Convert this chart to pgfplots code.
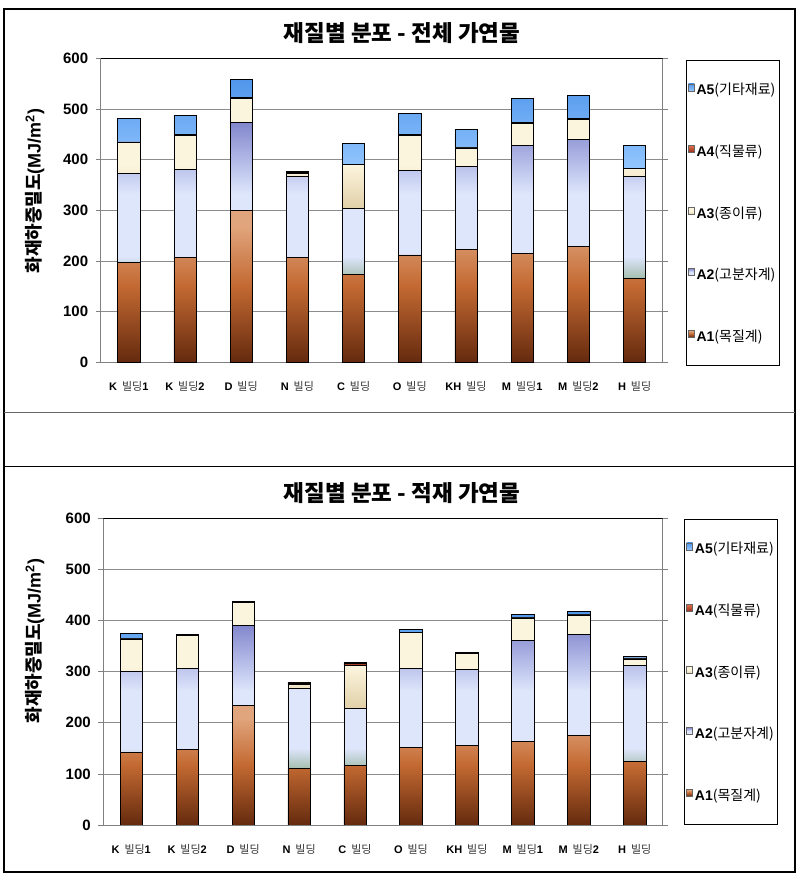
\documentclass[border=0pt]{standalone}
\usepackage{pgfplots}
\pgfplotsset{compat=1.18}
\usepackage{pgfplotstable}
\usepackage{fontspec}
\setmainfont{Liberation Sans}
\newfontfamily\kr{Noto Sans CJK KR}

\definecolor{a1d}{RGB}{100,42,14}
\definecolor{a1m}{RGB}{195,105,50}
\definecolor{a1l}{RGB}{225,165,125}
\definecolor{a2g}{RGB}{165,190,175}
\definecolor{a2p}{RGB}{222,230,252}
\definecolor{a2b}{RGB}{130,135,205}
\definecolor{a3b}{RGB}{225,208,168}
\definecolor{a3c}{RGB}{252,245,222}
\definecolor{a4d}{RGB}{150,45,25}
\definecolor{a4l}{RGB}{225,110,75}
\definecolor{a5b}{RGB}{150,200,255}
\definecolor{a5t}{RGB}{80,150,235}

\pgfdeclareverticalshading{shAa}{100bp}{color(0bp)=(a1d); color(25bp)=(a1d); color(50bp)=(a1m); color(70bp)=(a1l); color(100bp)=(a1l)}
\pgfdeclareverticalshading{shAb}{100bp}{color(0bp)=(a2g); color(25bp)=(a2g); color(32bp)=(a2p); color(52bp)=(a2p); color(75bp)=(a2b); color(100bp)=(a2b)}
\pgfdeclareverticalshading{shAc}{100bp}{color(0bp)=(a3b); color(25bp)=(a3b); color(45bp)=(a3c); color(100bp)=(a3c)}
\pgfdeclareverticalshading{shAd}{100bp}{color(0bp)=(a4d); color(25bp)=(a4d); color(75bp)=(a4l); color(100bp)=(a4l)}
\pgfdeclareverticalshading{shAe}{100bp}{color(0bp)=(a5b); color(25bp)=(a5b); color(75bp)=(a5t); color(100bp)=(a5t)}

\pgfplotstableread{
x A1 A2 A3 A4 A5
0 197 176 61 1 47
1 207 174 67 1 39
2 300 174 47 1 37
3 207 160 5 2 2
4 173 131 86 1 41
5 212 167 69 1 42
6 223 164 36 1 36
7 215 213 44 1 47
8 228 212 40 2 45
9 166 201 15 1 45
}\tabletop

\pgfplotstableread{
x A1 A2 A3 A4 A5
0 142 159 63 1 9
1 148 159 64 2 0
2 234 157 44 2 0
3 111 157 7 3 1
4 117 111 85 3 2
5 152 155 69 1 6
6 155 150 31 2 0
7 164 197 44 1 6
8 176 196 39 1 6
9 125 187 13 2 3
}\tablebot

\newcommand\xl[2]{\textbf{#1}\,{\kr\color{black!80}빌딩}\textbf{#2}}

\pgfplotsset{
 mybar/.style={
  scale only axis, ybar stacked, bar width=22.3pt,
  xmin=-0.5, xmax=9.5, ymin=0, ymax=600,
  ytick={0,100,...,600}, xtick={0,...,9},
  xticklabels={\xl{K }{1},\xl{K }{2},\xl{D }{},\xl{N }{},\xl{C }{},\xl{O }{},\xl{KH }{},\xl{M }{1},\xl{M }{2},\xl{H }{}},
  ymajorgrids, grid style={draw=black!45, line width=0.6pt},
  axis line style={draw=black!50, line width=0.6pt},
  tick align=outside, major tick length=5pt,
  xtick style={draw=none}, ytick style={draw=black!50, line width=0.6pt},
  /pgf/number format/assume math mode=true,
  yticklabel style={font=\fontsize{15}{15}\selectfont\bfseries, xshift=-4pt},
  xticklabel style={font=\fontsize{11}{11}\selectfont, yshift=-11pt},
  legend style={draw=black, line width=0.8pt, font=\fontsize{14}{14}\selectfont, legend cell align=left, row sep=44.5pt, inner xsep=2pt, inner ysep=21pt, anchor=north west},
  reverse legend,
  legend image code/.code={\draw[##1, draw=black!60, line width=0.5pt] (0pt,-1pt) rectangle (6pt,6pt);},
 },
 s1/.style={draw=black, line width=0.7pt, shade, shading=shAa},
 s2/.style={draw=black, line width=0.7pt, shade, shading=shAb},
 s3/.style={draw=black, line width=0.7pt, shade, shading=shAc},
 s4/.style={draw=black, line width=0.7pt, shade, shading=shAd},
 s5/.style={draw=black, line width=0.7pt, shade, shading=shAe},
}

\begin{document}
\begin{tikzpicture}
\useasboundingbox (0,0) rectangle (803pt,881pt);
\fill[white] (0,0) rectangle (803pt,881pt);
\draw[line width=2pt] (4.3pt,9pt) rectangle (795pt,872pt);
\draw[black!60, line width=1pt] (4.3pt,468.5pt) -- (795pt,468.5pt);
\draw[line width=1.5pt] (4.3pt,414.3pt) -- (795pt,414.3pt);

% ---------- top chart ----------
\node[font=\kr\bfseries\fontsize{22.5}{22.5}\selectfont] at (402pt,848pt) {재질별 분포 - 전체 가연물};
\node[rotate=90, font=\fontsize{18}{18}\selectfont] at (35pt,690pt) {{\kr\bfseries 화재하중밀도}\textbf{(MJ/m\textsuperscript{2})}};
\begin{axis}[mybar, at={(100.7pt,518.7pt)}, anchor=south west, width=562pt, height=304pt,
  legend style={at={(axis description cs:1.0409,0.9944)}}]
\addplot[s1] table[x=x,y=A1]{\tabletop};
\addplot[s2] table[x=x,y=A2]{\tabletop};
\addplot[s3] table[x=x,y=A3]{\tabletop};
\addplot[s4] table[x=x,y=A4]{\tabletop};
\addplot[s5] table[x=x,y=A5]{\tabletop};
\addlegendentry{\textbf{A1}{\kr(목질계)}}
\addlegendentry{\textbf{A2}{\kr(고분자계)}}
\addlegendentry{\textbf{A3}{\kr(종이류)}}
\addlegendentry{\textbf{A4}{\kr(직물류)}}
\addlegendentry{\textbf{A5}{\kr(기타재료)}}
\draw[black, line width=1pt] (rel axis cs:0,1) -- (rel axis cs:1,1);
\end{axis}

% ---------- bottom chart ----------
\node[font=\kr\bfseries\fontsize{22.5}{22.5}\selectfont] at (402pt,388pt) {재질별 분포 - 적재 가연물};
\node[rotate=90, font=\fontsize{18}{18}\selectfont] at (35pt,240pt) {{\kr\bfseries 화재하중밀도}\textbf{(MJ/m\textsuperscript{2})}};
\begin{axis}[mybar, at={(103.3pt,56pt)}, anchor=south west, width=559.4pt, height=306.7pt,
  legend style={at={(axis description cs:1.0381,0.9977)}}]
\addplot[s1] table[x=x,y=A1]{\tablebot};
\addplot[s2] table[x=x,y=A2]{\tablebot};
\addplot[s3] table[x=x,y=A3]{\tablebot};
\addplot[s4] table[x=x,y=A4]{\tablebot};
\addplot[s5] table[x=x,y=A5]{\tablebot};
\addlegendentry{\textbf{A1}{\kr(목질계)}}
\addlegendentry{\textbf{A2}{\kr(고분자계)}}
\addlegendentry{\textbf{A3}{\kr(종이류)}}
\addlegendentry{\textbf{A4}{\kr(직물류)}}
\addlegendentry{\textbf{A5}{\kr(기타재료)}}
\draw[black, line width=1pt] (rel axis cs:0,1) -- (rel axis cs:1,1);
\end{axis}
\end{tikzpicture}
\end{document}
